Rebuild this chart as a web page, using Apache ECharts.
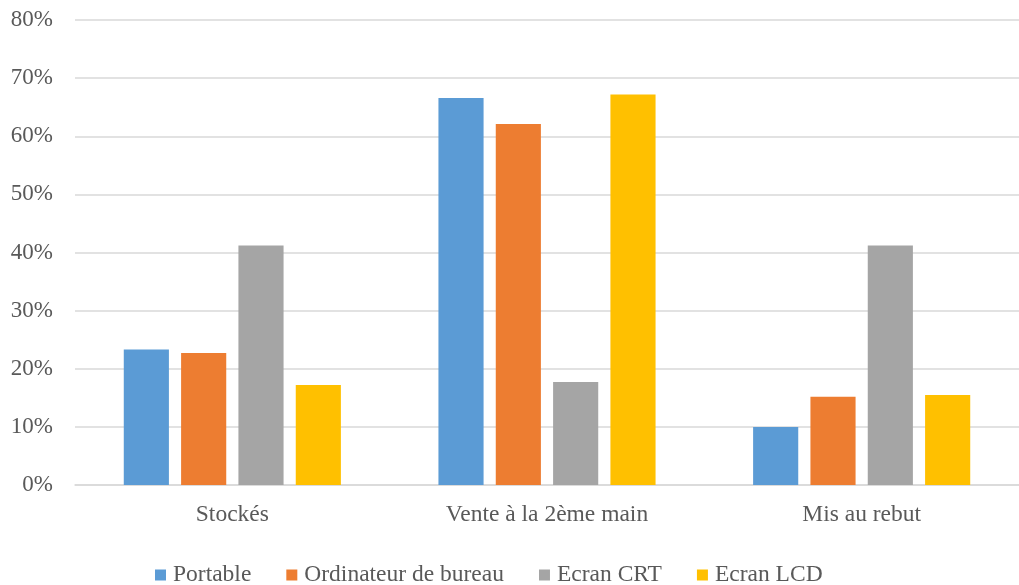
<!DOCTYPE html>
<html>
<head>
<meta charset="utf-8">
<script src="https://cdn.jsdelivr.net/npm/echarts@6/dist/echarts.min.js"></script>
<style>html,body{margin:0;padding:0;background:#fff}#c{width:1019px;height:585px}</style>
</head>
<body>
<div id="c"></div>
<script>
var categories = ['Stockés', 'Vente à la 2ème main', 'Mis au rebut'];
var seriesNames = ['Portable', 'Ordinateur de bureau', 'Ecran CRT', 'Ecran LCD'];
var portable = [23.3, 66.6, 10.0];
var ordinateur = [22.7, 62.1, 15.2];
var ecranCRT = [41.2, 17.7, 41.2];
var ecranLCD = [17.2, 67.2, 15.5];
var colors = ['#5b9bd5', '#ed7d31', '#a5a5a5', '#ffc000'];

var allData = [portable, ordinateur, ecranCRT, ecranLCD];
var font = 'Liberation Serif';
var chart = echarts.init(document.getElementById('c'));
chart.setOption({
  animation: false,
  color: colors,
  grid: {left: 75, right: 0, top: 20, bottom: 100, containLabel: false},
  legend: {
    top: 558, left: 150, itemWidth: 11, itemHeight: 11, itemGap: 35,
    icon: 'rect',
    textStyle: {fontFamily: font, fontSize: 23.5, color: '#595959', padding: [0,0,0,2]},
    data: seriesNames
  },
  xAxis: {
    type: 'category', data: categories,
    axisLine: {lineStyle: {color: '#d9d9d9', width: 1.5}},
    axisTick: {show: false},
    axisLabel: {fontFamily: font, fontSize: 23.5, color: '#595959', margin: 18}
  },
  yAxis: {
    type: 'value', min: 0, max: 80, interval: 10,
    axisLine: {show: false}, axisTick: {show: false},
    splitLine: {lineStyle: {color: '#d9d9d9', width: 1.5}},
    axisLabel: {fontFamily: font, fontSize: 23, color: '#595959', margin: 22,
      formatter: function(v){return v + '%';}}
  },
  series: seriesNames.map(function(n, i){
    return {name: n, type: 'bar', data: allData[i], barGap: '27%', barCategoryGap: '31%'};
  })
});
</script>
</body>
</html>
